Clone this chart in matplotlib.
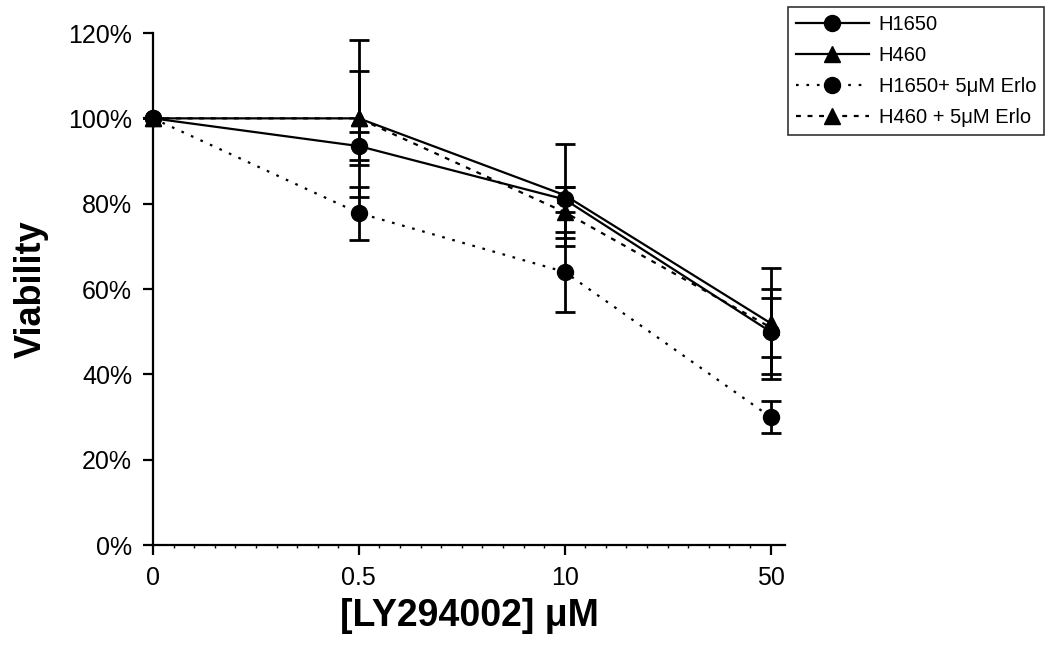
import numpy as np
import matplotlib
matplotlib.use("Agg")
import matplotlib.pyplot as plt
from matplotlib.ticker import PercentFormatter, MultipleLocator

plt.rcParams['font.family'] = ['Liberation Sans', 'DejaVu Sans']

# concentration categories
doses = ['0', '0.5', '10', '50']

# viability (%) and error bars
h1650 = [100, 93.5, 81, 50]
h1650_err = [0, 3.2, 3, 10]
h460 = [100, 100, 82, 52]
h460_err = [0, 18.4, 12, 13]
h1650_erlo = [100, 77.8, 64, 30]
h1650_erlo_err = [0, 6.2, 9.3, 3.8]
h460_erlo = [100, 100, 78, 51]
h460_erlo_err = [0, 11, 6, 7]

labels = ['H1650', 'H460', 'H1650+ 5\u03bcM Erlo', 'H460 + 5\u03bcM Erlo']

fig = plt.figure(figsize=(10.5, 6.45), dpi=100)
ax = fig.add_axes([0.1457, 0.155, 0.6019, 0.7938])

x = np.arange(len(doses))
series = [
    (h1650, h1650_err, 'o', '-', labels[0]),
    (h460, h460_err, '^', '-', labels[1]),
    (h1650_erlo, h1650_erlo_err, 'o', (0, (1.2, 3.5)), labels[2]),
    (h460_erlo, h460_erlo_err, '^', (0, (2.2, 3.0)), labels[3]),
]
lines = []
for vals, err, mk, ls, lab in series:
    c = ax.errorbar(x, vals, yerr=err, color='black', marker=mk, markersize=11.5,
                    linestyle=ls, linewidth=1.6, elinewidth=2, capsize=7,
                    capthick=2, label=lab, clip_on=False)
    lines.append(c.lines[0])

ax.set_xlim(0, 3.07)
ax.set_ylim(0, 120)
ax.set_xticks(x)
ax.set_xticklabels(doses)
ax.xaxis.set_minor_locator(MultipleLocator(0.1))
ax.yaxis.set_major_locator(MultipleLocator(20))
ax.yaxis.set_major_formatter(PercentFormatter(decimals=0))

for side in ['top', 'right']:
    ax.spines[side].set_visible(False)
for side in ['left', 'bottom']:
    ax.spines[side].set_linewidth(1.6)

ax.tick_params(axis='both', which='major', direction='out', length=7,
               width=1.6, labelsize=18, pad=8)
ax.tick_params(axis='x', which='minor', direction='out', length=2.5, width=1)
ax.tick_params(axis='y', which='minor', length=0)

ax.set_xlabel('[LY294002] \u03bcM', fontsize=27, fontweight='bold', labelpad=6)
ax.set_ylabel('Viability', fontsize=26, fontweight='bold', labelpad=14)

leg = fig.legend(lines, labels, loc='upper left',
                 bbox_to_anchor=(788 / 1050, 1 - 7 / 645),
                 frameon=True, fancybox=False, fontsize=14.5, handlelength=3.6,
                 labelspacing=0.6, borderpad=0.4, borderaxespad=0,
                 handletextpad=0.5)
leg.get_frame().set_edgecolor('black')
leg.get_frame().set_linewidth(1.2)

fig.savefig('out.png', dpi=100)
